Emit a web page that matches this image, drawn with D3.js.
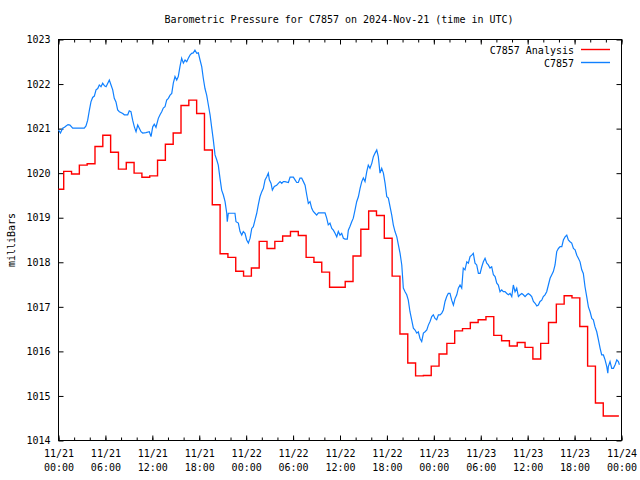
<!DOCTYPE html>
<html><head><meta charset="utf-8">
<script src="https://cdn.jsdelivr.net/npm/d3@7"></script>
<style>
body{margin:0;background:#fff}
text{font-family:"DejaVu Sans Mono","Liberation Mono",monospace;font-size:10px;fill:#000}
</style>
</head><body>
<svg id="chart" width="640" height="480"></svg>
<script>
const chartTitle = "Barometric Pressure for C7857 on 2024-Nov-21 (time in UTC)";
const yLabel = "milliBars";
const seriesNames = ["C7857 Analysis", "C7857"];
const seriesColors = ["#ff0000", "#1080ff"];
const yTicks = [1014,1015,1016,1017,1018,1019,1020,1021,1022,1023];
const xTickMinutes = [0,360,720,1080,1440,1800,2160,2520,2880,3240,3600,3960,4320];
const xTickDates = ["11/21","11/21","11/21","11/21","11/22","11/22","11/22","11/22","11/23","11/23","11/23","11/23","11/24"];
const xTickTimes = ["00:00","06:00","12:00","18:00","00:00","06:00","12:00","18:00","00:00","06:00","12:00","18:00","00:00"];

// hourly analysis values (each valid from hh:40 of previous hour to hh:40)
const analysisValues = [1019.64,1020.04,1019.98,1020.18,1020.21,1020.60,1020.85,1020.47,1020.09,1020.24,
 1020.00,1019.91,1019.94,1020.29,1020.65,1020.90,1021.52,1021.64,1021.34,1020.52,
 1019.29,1018.19,1018.11,1017.80,1017.69,1017.87,1018.47,1018.31,1018.47,1018.59,
 1018.69,1018.60,1018.11,1018.00,1017.78,1017.44,1017.44,1017.57,1018.14,1018.74,
 1019.15,1019.05,1018.54,1017.69,1016.39,1015.74,1015.45,1015.46,1015.67,1015.94,
 1016.18,1016.46,1016.51,1016.65,1016.71,1016.78,1016.36,1016.24,1016.12,1016.20,
 1016.09,1015.83,1016.18,1016.65,1017.06,1017.25,1017.20,1016.56,1015.67,1014.84,
 1014.55,1014.55];
const analysisStartMinutes = [0,40,100,160,220,280,340,400,460,520,580,640,700,760,820,880,940,1000,1060,1120,
 1180,1240,1300,1360,1420,1480,1540,1600,1660,1720,1780,1840,1900,1960,2020,2080,2140,2200,2260,2320,
 2380,2440,2500,2560,2620,2680,2740,2800,2860,2920,2980,3040,3100,3160,3220,3280,3340,3400,3460,3520,
 3580,3640,3700,3760,3820,3880,3940,4000,4060,4120,4180,4240];
const analysisEndMinute = 4300;

// observed station pressure (minutes after 11/21 00:00 UTC)
const obsMinutes = [0,15,32,46,58,73,88,109,134,165,198,211,224,236,249,262,275,288,301,313,326,339,353,365,378,390,403,416,428,441,454,467,493,505,531,543,556,569,582,595,608,620,633,646,671,697,710,723,735,748,766,779,792,804,817,830,843,856,869,881,894,907,919,932,945,958,971,984,996,1009,1022,1034,1047,1061,1073,1086,1099,1111,1124,1137,1150,1163,1176,1188,1201,1214,1226,1239,1252,1265,1278,1291,1295,1303,1331,1354,1362,1380,1393,1406,1418,1431,1444,1457,1470,1483,1495,1508,1521,1533,1546,1559,1572,1585,1598,1610,1618,1631,1641,1656,1674,1687,1700,1713,1725,1738,1764,1777,1802,1815,1828,1840,1853,1866,1879,1892,1905,1917,1930,1943,1955,1968,1981,1994,2045,2058,2070,2083,2097,2109,2122,2135,2147,2160,2173,2186,2199,2216,2224,2237,2250,2262,2275,2288,2301,2314,2327,2339,2352,2365,2377,2390,2404,2416,2429,2442,2454,2467,2480,2493,2506,2519,2531,2544,2557,2569,2582,2596,2608,2621,2634,2646,2659,2672,2684,2697,2710,2723,2736,2749,2761,2774,2787,2800,2813,2826,2838,2851,2864,2876,2889,2902,2915,2928,2941,2953,2966,2979,2991,3004,3017,3030,3043,3056,3068,3081,3094,3106,3119,3133,3145,3158,3171,3183,3196,3209,3222,3235,3248,3260,3273,3286,3298,3311,3324,3337,3350,3363,3375,3388,3401,3413,3426,3440,3452,3465,3478,3490,3503,3516,3529,3542,3555,3567,3580,3593,3605,3618,3631,3644,3657,3670,3682,3695,3708,3720,3733,3746,3759,3772,3785,3797,3810,3823,3836,3849,3862,3874,3887,3900,3912,3925,3938,3951,3964,3977,3989,4002,4015,4027,4040,4053,4066,4079,4092,4104,4117,4130,4143,4156,4168,4181,4194,4207,4215,4219,4232,4245,4258,4271,4284,4296,4304];
const obsValues = [1020.97,1020.90,1021.01,1021.03,1021.06,1021.09,1021.08,1021.01,1021.01,1021.01,1021.01,1021.06,1021.19,1021.40,1021.60,1021.70,1021.73,1021.87,1021.90,1021.98,1021.94,1022.02,1021.96,1021.94,1022.02,1022.09,1021.98,1021.87,1021.68,1021.60,1021.42,1021.38,1021.34,1021.31,1021.31,1021.40,1021.38,1021.19,1021.04,1020.93,1021.08,1021.01,1020.93,1020.90,1020.91,1020.93,1020.82,1021.04,1021.10,1021.03,1021.23,1021.31,1021.38,1021.46,1021.49,1021.64,1021.68,1021.75,1021.79,1022.02,1022.17,1022.09,1022.17,1022.39,1022.58,1022.47,1022.54,1022.50,1022.58,1022.65,1022.69,1022.70,1022.76,1022.69,1022.70,1022.54,1022.39,1022.13,1021.90,1021.75,1021.53,1021.31,1021.01,1020.74,1020.41,1020.30,1020.18,1019.89,1019.62,1019.51,1019.36,1019.10,1018.91,1019.10,1019.10,1019.10,1018.91,1018.88,1018.69,1018.61,1018.69,1018.65,1018.50,1018.43,1018.54,1018.76,1018.80,1018.95,1019.10,1019.29,1019.47,1019.58,1019.66,1019.85,1019.92,1020.00,1019.85,1019.77,1019.62,1019.70,1019.73,1019.77,1019.81,1019.77,1019.81,1019.81,1019.79,1019.91,1019.91,1019.85,1019.79,1019.79,1019.89,1019.89,1019.81,1019.73,1019.51,1019.32,1019.36,1019.21,1019.14,1019.10,1019.06,1019.11,1019.11,1018.99,1018.84,1018.88,1018.76,1018.72,1018.65,1018.57,1018.69,1018.61,1018.65,1018.54,1018.52,1018.52,1018.72,1018.81,1018.91,1018.99,1019.17,1019.36,1019.47,1019.66,1019.81,1019.89,1019.81,1020.03,1020.18,1020.11,1020.22,1020.37,1020.45,1020.52,1020.37,1020.00,1020.11,1020.00,1019.77,1019.47,1019.44,1019.25,1019.06,1018.84,1018.69,1018.57,1018.39,1018.20,1017.94,1017.42,1017.34,1017.27,1017.15,1016.89,1016.71,1016.52,1016.48,1016.41,1016.44,1016.29,1016.22,1016.41,1016.44,1016.48,1016.59,1016.67,1016.78,1016.82,1016.74,1016.71,1016.82,1016.82,1016.86,1016.93,1017.12,1017.23,1017.30,1017.30,1017.15,1017.04,1017.19,1017.27,1017.42,1017.49,1017.42,1017.87,1017.83,1018.01,1017.98,1018.13,1018.16,1018.20,1017.98,1017.94,1017.75,1017.75,1017.90,1018.01,1018.09,1017.98,1017.94,1017.87,1017.90,1017.72,1017.68,1017.53,1017.49,1017.34,1017.38,1017.34,1017.34,1017.30,1017.27,1017.30,1017.23,1017.49,1017.34,1017.42,1017.23,1017.27,1017.30,1017.27,1017.23,1017.27,1017.30,1017.27,1017.23,1017.12,1017.08,1017.02,1017.04,1017.12,1017.15,1017.23,1017.27,1017.34,1017.49,1017.64,1017.72,1017.79,1017.94,1018.24,1018.31,1018.35,1018.35,1018.50,1018.57,1018.61,1018.50,1018.46,1018.43,1018.31,1018.28,1018.16,1018.09,1018.01,1017.83,1017.75,1017.45,1017.23,1017.00,1016.89,1016.74,1016.71,1016.55,1016.44,1016.26,1016.07,1015.92,1015.92,1015.81,1015.66,1015.51,1015.66,1015.77,1015.62,1015.62,1015.70,1015.81,1015.77,1015.70];

const svg = d3.select("#chart");
const L = 58.5, R = 621.5, T = 39.5, B = 440.5;
const x = d3.scaleLinear().domain([0, 4320]).range([L, R]);
const y = d3.scaleLinear().domain([1014, 1023]).range([B, T]);

// title
svg.append("text").attr("x", 339).attr("y", 23).attr("text-anchor", "middle").text(chartTitle);
// y label
svg.append("text").attr("transform", "translate(15,240) rotate(-90)").attr("text-anchor", "middle").text(yLabel);

const minorMinutes = d3.range(0, 4321, 120);

function styleAxis(g){ g.select(".domain").remove(); g.selectAll("line").attr("stroke","#000"); }

// bottom minor + major
svg.append("g").attr("transform",`translate(0,${B})`)
  .call(d3.axisBottom(x).tickValues(minorMinutes).tickSize(-3).tickFormat("")).call(styleAxis);
const bx = svg.append("g").attr("transform",`translate(0,${B})`)
  .call(d3.axisBottom(x).tickValues(xTickMinutes).tickSize(-5).tickFormat("")).call(styleAxis);
bx.selectAll(".tick").each(function(d,i){
  const t = d3.select(this).append("text").attr("text-anchor","middle").style("font-family",'"DejaVu Sans Mono",monospace').style("font-size","10px").attr("fill","#000");
  t.append("tspan").attr("x",0).attr("y",16).text(xTickDates[i]);
  t.append("tspan").attr("x",0).attr("y",30).text(xTickTimes[i]);
});
// top
svg.append("g").attr("transform",`translate(0,${T})`)
  .call(d3.axisTop(x).tickValues(minorMinutes).tickSize(-3).tickFormat("")).call(styleAxis);
svg.append("g").attr("transform",`translate(0,${T})`)
  .call(d3.axisTop(x).tickValues(xTickMinutes).tickSize(-5).tickFormat("")).call(styleAxis);
// left
const ly = svg.append("g").attr("transform",`translate(${L},0)`)
  .call(d3.axisLeft(y).tickValues(yTicks).tickSize(-5).tickPadding(8).tickFormat(d3.format("d"))).call(styleAxis);
ly.selectAll("text").style("font-family",'"DejaVu Sans Mono",monospace').style("font-size","10px");
// right
svg.append("g").attr("transform",`translate(${R},0)`)
  .call(d3.axisRight(y).tickValues(yTicks).tickSize(-5).tickFormat("")).call(styleAxis);

// frame
svg.append("rect").attr("x",L).attr("y",T).attr("width",R-L).attr("height",B-T)
  .attr("fill","none").attr("stroke","#000").attr("stroke-width",1);

// analysis step line
const analysisData = analysisValues.map((v,i)=>({m:analysisStartMinutes[i], v}));
analysisData.push({m:analysisEndMinute, v:analysisValues[analysisValues.length-1]});
svg.append("path").datum(analysisData)
  .attr("fill","none").attr("stroke",seriesColors[0]).attr("stroke-width",1.4)
  .attr("d", d3.line().x(d=>x(d.m)).y(d=>y(d.v)).curve(d3.curveStepAfter));

// observed line
const obsData = obsMinutes.map((m,i)=>({m, v:obsValues[i]}));
svg.append("path").datum(obsData)
  .attr("fill","none").attr("stroke",seriesColors[1]).attr("stroke-width",1.2)
  .attr("d", d3.line().x(d=>x(d.m)).y(d=>y(d.v)));

// legend
const legend = svg.append("g");
seriesNames.forEach((name,i)=>{
  const yy = 50 + i*13;
  legend.append("text").attr("x",574).attr("y",yy).attr("dy","0.35em").attr("text-anchor","end").text(name);
  legend.append("line").attr("x1",581).attr("x2",610).attr("y1",yy-0.5).attr("y2",yy-0.5)
    .attr("stroke",seriesColors[i]).attr("stroke-width",1.4);
});
</script>
</body></html>
